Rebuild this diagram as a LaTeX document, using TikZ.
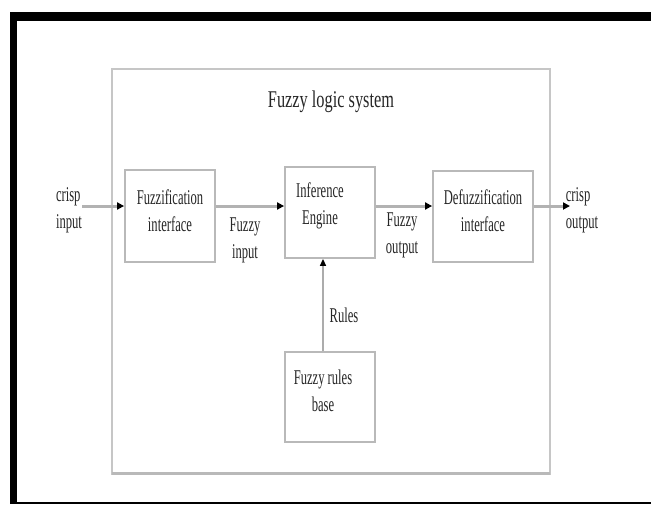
\documentclass[tikz,border=0pt]{standalone}
\usepackage{fontspec}
\setmainfont{Liberation Serif}
\newfontfamily\bodyf[FakeStretch=0.6]{Liberation Serif}
\newfontfamily\titlef[FakeStretch=0.68]{Liberation Serif}
\usetikzlibrary{arrows.meta}
\begin{document}
\begin{tikzpicture}[x=1pt,y=-1pt,
  blk/.style={draw=gray!55,line width=1.8pt,fill=white,inner sep=0pt},
  lbl/.style={font=\bodyf\fontsize{21}{27}\selectfont,text=black!85,align=center,inner sep=0pt},
  flow/.style={draw=gray!60,line width=3pt,-{Triangle[color=black,length=7pt,width=7pt]}},
  thin/.style={draw=gray!65,line width=1.4pt,-{Triangle[color=black,length=7pt,width=6pt]}}]
\useasboundingbox (0,0) rectangle (651,504);
\fill[white] (0,0) rectangle (651,504);
% black frame
\fill[black] (10,12) rectangle (651,21);
\fill[black] (10,12) rectangle (17,504);
\fill[black] (10,501.5) rectangle (651,504);
% system box
\draw[gray!45,line width=2pt] (112,69) rectangle (550,474);
\draw[gray!55,line width=3pt] (112,473) -- (550,473);
\node[font=\titlef\fontsize{24}{26}\selectfont,text=black!85,inner sep=0pt] (title) at (331,102) {Fuzzy logic system};
% blocks
\node[blk,minimum width=90pt,minimum height=92pt] (fuz) at (170,216) {};
\node[lbl] (fuzt) at (170,211) {Fuzzification\\interface};
\node[blk,minimum width=90pt,minimum height=91pt] (inf) at (330,212.5) {};
\node[lbl] (inft) at (320,206) {Inference\\Engine};
\node[blk,minimum width=100pt,minimum height=91pt] (def) at (483,216.5) {};
\node[lbl] (deft) at (483,211) {Defuzzification\\interface};
\node[blk,minimum width=90pt,minimum height=90pt] (rb) at (330,397) {};
\node[lbl] (rbt) at (323,391) {Fuzzy rules\\base};
% side labels
\node[lbl,align=left] (cin) at (69,210) {crisp\\input};
\node[lbl,align=left] (cout) at (582,210) {crisp\\output};
\node[lbl] (fin) at (245,240) {Fuzzy\\input};
\node[lbl] (fout) at (402,235) {Fuzzy\\output};
\node[lbl] (rules) at (344,315) {Rules};
% connectors
\draw[flow] (cin.east |- 0,206) -- (fuz.west |- 0,206);
\draw[flow] (fuz.east |- 0,206) -- (inf.west |- 0,206);
\draw[flow] (inf.east |- 0,206) -- (def.west |- 0,206);
\coordinate (outend) at (570,206);
\draw[flow] (def.east |- outend) -- (outend);
\draw[thin] (rb.north -| 323,0) -- (inf.south -| 323,0);
\end{tikzpicture}
\end{document}
